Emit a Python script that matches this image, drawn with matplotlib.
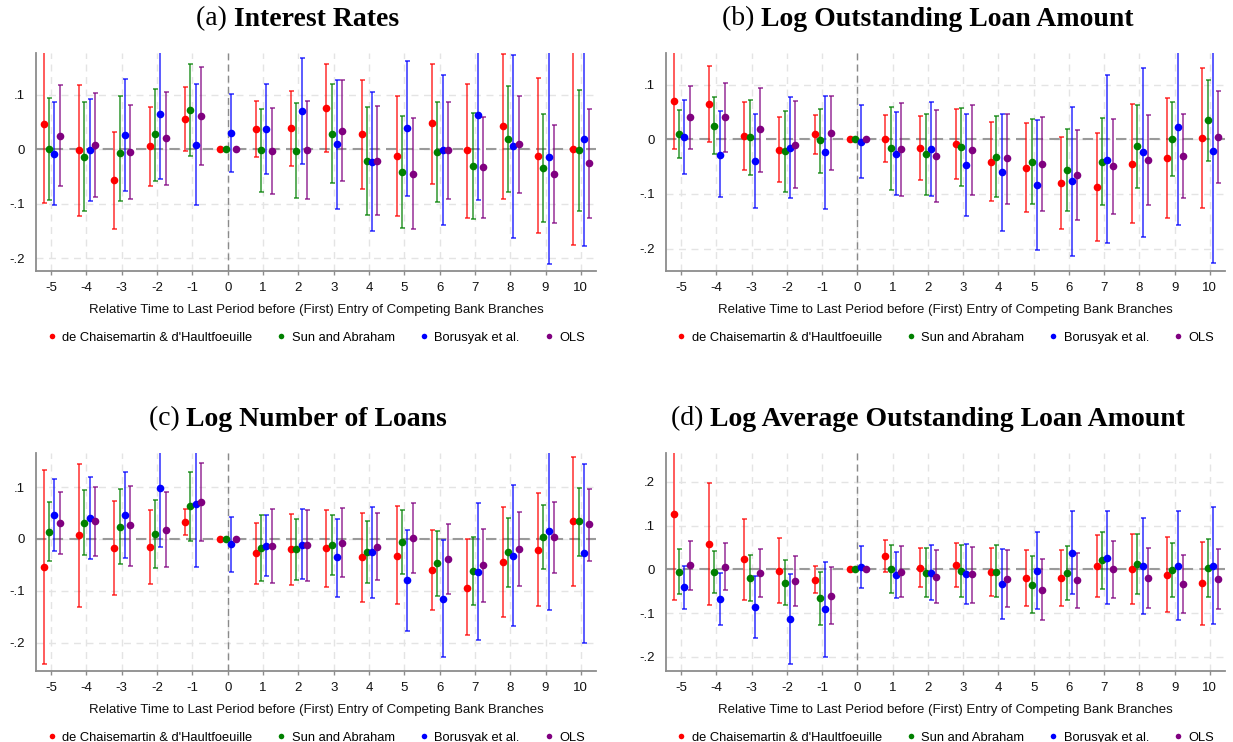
import matplotlib
matplotlib.use("Agg")
import matplotlib.pyplot as plt
from matplotlib.lines import Line2D

# Event time relative to the last period before the first competing branch entry
periods = [-5, -4, -3, -2, -1, 0, 1, 2, 3, 4, 5, 6, 7, 8, 9, 10]

estimators = ["de Chaisemartin & d'Haultfoeuille", "Sun and Abraham", "Borusyak et al.", "OLS"]
colors = ["#ff0000", "#008000", "#0000ff", "#800080"]
offsets = [-0.21, -0.06, 0.09, 0.24]

# (a) Interest rates: rows follow the estimator order
rates_point = [
    [0.046, -0.002, -0.057, 0.006, 0.055, 0, 0.037, 0.038, 0.075, 0.027, -0.012, 0.048, -0.002, 0.042, -0.012, 0.001],
    [0.001, -0.014, -0.007, 0.027, 0.072, 0, -0.002, -0.003, 0.028, -0.021, -0.042, -0.005, -0.031, 0.018, -0.035, -0.002],
    [-0.008, -0.001, 0.026, 0.065, 0.008, 0.030, 0.036, 0.070, 0.009, -0.023, 0.038, -0.001, 0.063, 0.005, -0.014, 0.018],
    [0.025, 0.007, -0.006, 0.020, 0.061, 0, -0.003, -0.001, 0.034, -0.021, -0.045, -0.002, -0.033, 0.009, -0.046, -0.026],
]
rates_low = [
    [-0.099, -0.122, -0.147, -0.067, -0.004, 0, -0.015, -0.031, -0.006, -0.073, -0.122, -0.063, -0.126, -0.091, -0.154, -0.176],
    [-0.093, -0.114, -0.094, -0.058, -0.012, 0, -0.079, -0.090, -0.062, -0.120, -0.145, -0.097, -0.127, -0.079, -0.134, -0.114],
    [-0.102, -0.095, -0.077, -0.054, -0.103, -0.042, -0.046, -0.027, -0.109, -0.150, -0.086, -0.138, -0.093, -0.162, -0.210, -0.178],
    [-0.067, -0.087, -0.092, -0.065, -0.029, 0, -0.082, -0.091, -0.059, -0.121, -0.147, -0.092, -0.126, -0.080, -0.136, -0.126],
]
rates_high = [
    [0.191, 0.118, 0.031, 0.078, 0.114, 0, 0.089, 0.107, 0.156, 0.126, 0.097, 0.156, 0.120, 0.175, 0.131, 0.178],
    [0.093, 0.086, 0.097, 0.111, 0.156, 0, 0.074, 0.084, 0.119, 0.078, 0.061, 0.087, 0.066, 0.115, 0.064, 0.109],
    [0.086, 0.091, 0.128, 0.184, 0.120, 0.101, 0.119, 0.166, 0.127, 0.104, 0.162, 0.135, 0.219, 0.172, 0.182, 0.214],
    [0.118, 0.103, 0.081, 0.104, 0.150, 0, 0.076, 0.089, 0.126, 0.079, 0.057, 0.087, 0.059, 0.098, 0.045, 0.074],
]

# (b) Log outstanding loan amount
amount_point = [
    [0.071, 0.064, 0.006, -0.019, 0.010, 0, 0.001, -0.016, -0.009, -0.041, -0.053, -0.080, -0.087, -0.045, -0.034, 0.002],
    [0.009, 0.025, 0.004, -0.022, -0.002, 0, -0.016, -0.027, -0.014, -0.032, -0.041, -0.056, -0.042, -0.013, 0.001, 0.035],
    [0.004, -0.028, -0.040, -0.015, -0.024, -0.004, -0.026, -0.018, -0.047, -0.060, -0.083, -0.077, -0.037, -0.024, 0.023, -0.021],
    [0.040, 0.040, 0.018, -0.010, 0.012, 0, -0.018, -0.030, -0.020, -0.035, -0.045, -0.065, -0.049, -0.038, -0.030, 0.005],
]
amount_low = [
    [-0.018, -0.005, -0.056, -0.078, -0.026, 0, -0.042, -0.074, -0.073, -0.113, -0.133, -0.164, -0.186, -0.153, -0.144, -0.126],
    [-0.035, -0.027, -0.065, -0.097, -0.062, 0, -0.092, -0.102, -0.086, -0.106, -0.119, -0.131, -0.121, -0.089, -0.067, -0.039],
    [-0.064, -0.106, -0.126, -0.107, -0.128, -0.070, -0.101, -0.104, -0.141, -0.167, -0.202, -0.214, -0.190, -0.178, -0.156, -0.227],
    [-0.017, -0.023, -0.059, -0.090, -0.057, 0, -0.103, -0.115, -0.101, -0.118, -0.131, -0.147, -0.136, -0.121, -0.107, -0.080],
]
amount_high = [
    [0.160, 0.134, 0.069, 0.040, 0.044, 0, 0.045, 0.043, 0.056, 0.031, 0.029, 0.004, 0.012, 0.065, 0.075, 0.130],
    [0.054, 0.078, 0.072, 0.052, 0.056, 0, 0.059, 0.046, 0.057, 0.043, 0.037, 0.019, 0.039, 0.062, 0.069, 0.109],
    [0.072, 0.051, 0.046, 0.077, 0.079, 0.062, 0.050, 0.068, 0.046, 0.046, 0.035, 0.059, 0.117, 0.130, 0.202, 0.185],
    [0.098, 0.104, 0.094, 0.071, 0.080, 0, 0.067, 0.054, 0.062, 0.047, 0.040, 0.017, 0.037, 0.044, 0.046, 0.089],
]

# (c) Log number of loans
count_point = [
    [-0.054, 0.007, -0.017, -0.015, 0.033, 0, -0.028, -0.020, -0.018, -0.035, -0.032, -0.060, -0.094, -0.045, -0.021, 0.035],
    [0.014, 0.031, 0.024, 0.010, 0.063, 0, -0.018, -0.020, -0.011, -0.025, -0.006, -0.047, -0.061, -0.026, 0.004, 0.034],
    [0.046, 0.040, 0.046, 0.098, 0.067, -0.009, -0.013, -0.011, -0.035, -0.026, -0.080, -0.115, -0.064, -0.032, 0.015, -0.028],
    [0.031, 0.035, 0.026, 0.018, 0.071, 0, -0.014, -0.012, -0.007, -0.015, 0.002, -0.039, -0.050, -0.019, 0.004, 0.028],
]
count_low = [
    [-0.241, -0.131, -0.108, -0.087, 0.007, 0, -0.087, -0.088, -0.093, -0.122, -0.126, -0.137, -0.186, -0.151, -0.130, -0.090],
    [-0.043, -0.031, -0.049, -0.057, -0.004, 0, -0.082, -0.079, -0.070, -0.085, -0.068, -0.110, -0.127, -0.093, -0.058, -0.032],
    [-0.023, -0.038, -0.037, -0.015, -0.055, -0.063, -0.072, -0.078, -0.112, -0.114, -0.178, -0.228, -0.196, -0.168, -0.137, -0.201],
    [-0.029, -0.032, -0.052, -0.055, -0.003, 0, -0.086, -0.081, -0.073, -0.079, -0.065, -0.107, -0.121, -0.090, -0.065, -0.043],
]
count_high = [
    [0.133, 0.145, 0.074, 0.055, 0.057, 0, 0.030, 0.048, 0.055, 0.050, 0.063, 0.017, -0.001, 0.061, 0.088, 0.159],
    [0.071, 0.094, 0.097, 0.075, 0.130, 0, 0.046, 0.039, 0.047, 0.035, 0.055, 0.015, 0.004, 0.040, 0.065, 0.098],
    [0.115, 0.119, 0.130, 0.211, 0.189, 0.043, 0.046, 0.057, 0.039, 0.061, 0.018, -0.002, 0.069, 0.105, 0.167, 0.144],
    [0.091, 0.100, 0.103, 0.090, 0.146, 0, 0.058, 0.055, 0.059, 0.051, 0.069, 0.028, 0.020, 0.053, 0.072, 0.097],
]

# (d) Log average outstanding loan amount
average_point = [
    [0.126, 0.058, 0.024, -0.003, -0.023, 0, 0.030, 0.004, 0.010, -0.005, -0.020, -0.020, 0.008, 0.001, -0.013, -0.032],
    [-0.005, -0.005, -0.020, -0.031, -0.066, 0, 0.002, -0.008, -0.003, -0.006, -0.035, -0.009, 0.021, 0.013, -0.002, 0.003],
    [-0.041, -0.068, -0.086, -0.113, -0.091, 0.005, -0.013, -0.008, -0.010, -0.034, -0.003, 0.038, 0.027, 0.008, 0.008, 0.009],
    [0.010, 0.006, -0.008, -0.027, -0.060, 0, -0.005, -0.017, -0.011, -0.021, -0.047, -0.025, 0.001, -0.020, -0.033, -0.022],
]
average_low = [
    [-0.069, -0.082, -0.069, -0.077, -0.053, 0, -0.006, -0.040, -0.040, -0.060, -0.083, -0.083, -0.064, -0.078, -0.098, -0.126],
    [-0.055, -0.053, -0.072, -0.082, -0.126, 0, -0.053, -0.063, -0.062, -0.063, -0.100, -0.070, -0.044, -0.055, -0.064, -0.063],
    [-0.091, -0.128, -0.156, -0.215, -0.199, -0.042, -0.065, -0.070, -0.080, -0.113, -0.091, -0.057, -0.079, -0.102, -0.116, -0.124],
    [-0.047, -0.047, -0.063, -0.083, -0.124, 0, -0.063, -0.077, -0.076, -0.085, -0.115, -0.089, -0.065, -0.088, -0.099, -0.090],
]
average_high = [
    [0.321, 0.198, 0.116, 0.071, 0.007, 0, 0.067, 0.050, 0.061, 0.050, 0.044, 0.044, 0.079, 0.080, 0.073, 0.063],
    [0.047, 0.041, 0.032, 0.021, -0.005, 0, 0.055, 0.048, 0.056, 0.055, 0.031, 0.053, 0.085, 0.082, 0.061, 0.069],
    [0.008, -0.007, -0.015, -0.011, 0.018, 0.053, 0.039, 0.056, 0.059, 0.046, 0.085, 0.134, 0.133, 0.118, 0.133, 0.142],
    [0.066, 0.060, 0.047, 0.030, 0.006, 0, 0.054, 0.044, 0.051, 0.044, 0.023, 0.038, 0.066, 0.049, 0.032, 0.047],
]

panel_tags = ["(a)", "(b)", "(c)", "(d)"]
panel_titles = ["Interest Rates", "Log Outstanding Loan Amount",
                "Log Number of Loans", "Log Average Outstanding Loan Amount"]
panel_yticks = [[-0.2, -0.1, 0, 0.1], [-0.2, -0.1, 0, 0.1],
                [-0.2, -0.1, 0, 0.1], [-0.2, -0.1, 0, 0.1, 0.2]]
panel_ylims = [(-0.223, 0.176), (-0.241, 0.158), (-0.255, 0.166), (-0.232, 0.266)]
xlabel = "Relative Time to Last Period before (First) Entry of Competing Bank Branches"

panel_data = [
    (rates_point, rates_low, rates_high),
    (amount_point, amount_low, amount_high),
    (count_point, count_low, count_high),
    (average_point, average_low, average_high),
]

plt.rcParams["font.family"] = ["Liberation Sans", "DejaVu Sans"]

W, H = 1233, 742
fig = plt.figure(figsize=(W / 100, H / 100), dpi=100)
fig.patch.set_facecolor("white")

# axes boxes in pixels: left, top, right, bottom
boxes = [(36, 53, 596, 271), (666, 53, 1225, 271),
         (36, 453, 596, 671), (666, 453, 1225, 671)]
title_centers = [(298, 19), (928, 19), (298, 419), (928, 419)]


def stata_label(v):
    if abs(v) < 1e-9:
        return "0"
    s = f"{v:.1f}"
    return s.replace("0.", ".")


def rgba(hexcol, a):
    h = hexcol.lstrip("#")
    return (int(h[0:2], 16) / 255, int(h[2:4], 16) / 255, int(h[4:6], 16) / 255, a)


axes = []
for k in range(4):
    l, t, r, b = boxes[k]
    ax = fig.add_axes([l / W, 1 - b / H, (r - l) / W, (b - t) / H])
    axes.append(ax)
    point, low, high = panel_data[k]

    for j in range(4):
        xs = [p + offsets[j] for p in periods]
        yerr = [[pt - lo for pt, lo in zip(point[j], low[j])],
                [hi - pt for pt, hi in zip(point[j], high[j])]]
        ax.errorbar(xs, point[j], yerr=yerr, fmt="none",
                    ecolor=rgba(colors[j], 0.75), elinewidth=1.2,
                    capsize=1.8, capthick=1.2, zorder=3)
        ax.plot(xs, point[j], "o", color=colors[j], markersize=5.5,
                markeredgewidth=0, zorder=4)

    ax.set_xlim(-5.43, 10.43)
    ax.set_ylim(*panel_ylims[k])
    ax.set_xticks(periods)
    ax.set_xticklabels([str(p) for p in periods])
    ax.set_yticks(panel_yticks[k])
    ax.set_yticklabels([stata_label(v) for v in panel_yticks[k]])

    ax.grid(True, color="#e4e4e4", linestyle=(0, (5, 4)), linewidth=1.0, zorder=0)
    ax.set_axisbelow(True)
    ax.axhline(0, color="#9a9a9a", linestyle=(0, (5, 3)), linewidth=1.5, zorder=2)
    ax.axvline(0, color="#8a8a8a", linestyle=(0, (5, 3)), linewidth=1.0, zorder=2)

    for side in ["top", "right"]:
        ax.spines[side].set_visible(False)
    for side in ["left", "bottom"]:
        ax.spines[side].set_color("#8c8c8c")
        ax.spines[side].set_linewidth(1.3)

    ax.tick_params(axis="x", length=3, width=1, color="#8c8c8c", pad=5,
                   labelsize=9.5, labelcolor="#111111")
    ax.tick_params(axis="y", length=0, pad=8, labelsize=9.5, labelcolor="#111111")
    ax.set_xlabel(xlabel, fontsize=9.5, color="#111111", labelpad=7)

    handles = [Line2D([], [], linestyle="none", marker="o", markersize=4,
                      markeredgewidth=0, color=c) for c in colors]
    ax.legend(handles, estimators, loc="center", bbox_to_anchor=(0.5, -0.305),
              ncol=4, frameon=False, fontsize=9.3, handlelength=0.7,
              handletextpad=0.45, columnspacing=1.9, borderaxespad=0)

# Titles: panel tag in regular weight followed by bold panel name
fig.canvas.draw()
renderer = fig.canvas.get_renderer()
title_font = ["Liberation Serif", "DejaVu Serif"]
for k in range(4):
    cx, cy = title_centers[k]
    tag = fig.text(0, 1 - cy / H, panel_tags[k] + " ", fontsize=20,
                   family=title_font, va="center", ha="left")
    name = fig.text(0, 1 - cy / H, panel_titles[k], fontsize=20,
                    family=title_font, weight="bold", va="center", ha="left")
    w1 = tag.get_window_extent(renderer).width
    w2 = name.get_window_extent(renderer).width
    x0 = cx - (w1 + w2) / 2
    tag.set_x(x0 / W)
    name.set_x((x0 + w1) / W)

fig.savefig("out.png", dpi=100, facecolor="white")
